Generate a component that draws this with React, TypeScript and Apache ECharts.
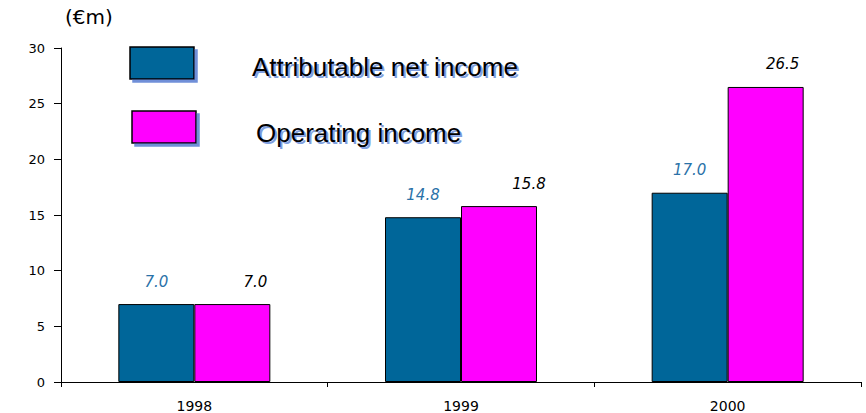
import React, { useEffect, useRef } from "react";
import * as echarts from "echarts";

const categories = ["1998", "1999", "2000"];
const netIncome = [7.0, 14.8, 17.0];
const operatingIncome = [7.0, 15.8, 26.5];
const seriesNames = ["Attributable net income", "Operating income"];
const unitLabel = "(€m)";

// styling only: horizontal nudge of operating-income labels
const opLabelDx = [23, 30, 17];

function shadowImage(text: string) {
  const svg =
    `<svg xmlns="http://www.w3.org/2000/svg" width="320" height="40">` +
    `<text x="0" y="20" dominant-baseline="central" font-family="Liberation Sans" font-size="26" fill="#7f9fe0">${text}</text>` +
    `</svg>`;
  return "data:image/svg+xml;charset=utf-8," + encodeURIComponent(svg);
}

export default function App() {
  const ref = useRef<HTMLDivElement>(null);
  useEffect(() => {
    if (!ref.current) return;
    const chart = echarts.init(ref.current, undefined, { renderer: "svg" });
    const labelBase = {
      show: true,
      position: "top" as const,
      distance: 15,
      fontFamily: "DejaVu Sans",
      fontStyle: "italic" as const,
      fontSize: 15,
      formatter: (p: any) => Number(p.value).toFixed(1),
    };
    const legendText = (text: string, x: number, y: number) => [
      {
        type: "image",
        x: x + 2,
        y: y + 2 - 20,
        silent: true,
        style: { image: shadowImage(text), width: 320, height: 40 },
      },
      {
        type: "text",
        x,
        y,
        style: {
          text,
          fontFamily: "Liberation Sans",
          fontSize: 26,
          fill: "#000",
          verticalAlign: "middle",
        },
      },
    ];
    const legendRect = (x: number, y: number, fill: string) => ({
      type: "rect",
      shape: { x, y, width: 64, height: 32 },
      style: {
        fill,
        stroke: "#000",
        lineWidth: 1.5,
        shadowColor: "#6f8fd8",
        shadowOffsetX: 3,
        shadowOffsetY: 3,
        shadowBlur: 0,
      },
    });
    chart.setOption({
      animation: false,
      backgroundColor: "#ffffff",
      grid: { left: 61, right: 5, top: 48, bottom: 30 },
      xAxis: {
        type: "category",
        data: categories,
        boundaryGap: true,
        axisLine: { lineStyle: { color: "#000", width: 1 } },
        axisTick: { show: true, length: 5, lineStyle: { color: "#000" } },
        axisLabel: {
          color: "#000",
          fontFamily: "DejaVu Sans",
          fontSize: 14,
          margin: 17,
        },
      },
      yAxis: {
        type: "value",
        min: 0,
        max: 30,
        interval: 5,
        splitLine: { show: false },
        axisLine: { show: true, lineStyle: { color: "#000", width: 1 } },
        axisTick: { show: true, length: 7, lineStyle: { color: "#000" } },
        axisLabel: {
          color: "#000",
          fontFamily: "DejaVu Sans",
          fontSize: 13,
          margin: 16,
        },
      },
      series: [
        {
          name: seriesNames[0],
          type: "bar",
          data: netIncome,
          barWidth: 76,
          barGap: "0%",
          itemStyle: { color: "#006699", borderColor: "#000", borderWidth: 1 },
          label: { ...labelBase, color: "#2a72a8" },
        },
        {
          name: seriesNames[1],
          type: "bar",
          data: operatingIncome.map((v, i) => ({
            value: v,
            label: { offset: [opLabelDx[i], 0] },
          })),
          barWidth: 76,
          barGap: "0%",
          itemStyle: { color: "#ff00ff", borderColor: "#000", borderWidth: 1 },
          label: { ...labelBase, color: "#000" },
        },
      ],
      graphic: [
        {
          type: "text",
          left: 65,
          top: 7,
          style: {
            text: unitLabel,
            fontFamily: "DejaVu Sans",
            fontSize: 20,
            fill: "#000",
          },
        },
        legendRect(130, 47, "#006699"),
        legendRect(132, 111, "#ff00ff"),
        ...legendText(seriesNames[0], 252, 67),
        ...legendText(seriesNames[1], 256, 133),
      ],
    });
    return () => chart.dispose();
  }, []);
  return <div ref={ref} style={{ width: 866, height: 413, position: "absolute", left: 0, top: 0 }} />;
}
